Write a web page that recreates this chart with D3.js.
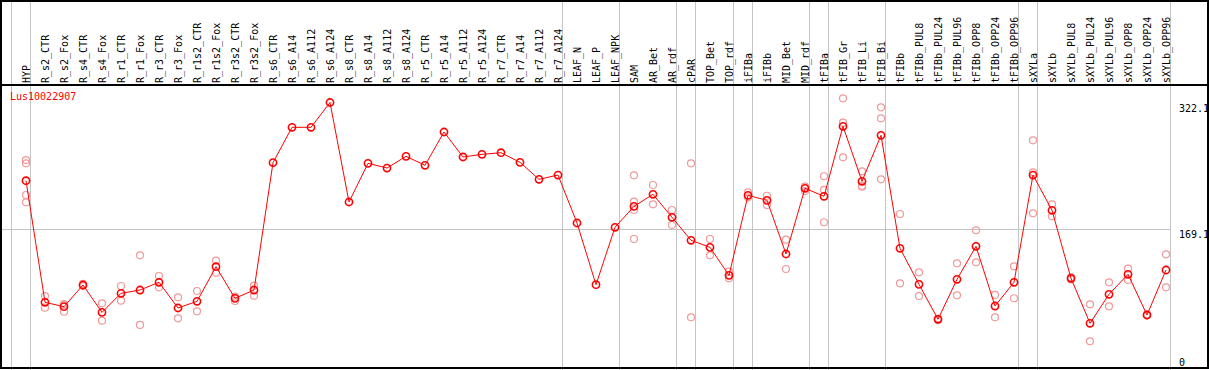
<!DOCTYPE html>
<html>
<head>
<meta charset="utf-8">
<script src="https://cdn.jsdelivr.net/npm/d3@7"></script>
<style>
  body { margin: 0; background: #fff; }
  text { font-family: "DejaVu Sans Mono", monospace; font-size: 10px; }
</style>
</head>
<body>
<script>
var samples = ["HYP","R_s2_CTR","R_s2_Fox","R_s4_CTR","R_s4_Fox","R_r1_CTR","R_r1_Fox","R_r3_CTR","R_r3_Fox",
  "R_r1s2_CTR","R_r1s2_Fox","R_r3s2_CTR","R_r3s2_Fox","R_s6_CTR","R_s6_A14","R_s6_A112","R_s6_A124",
  "R_s8_CTR","R_s8_A14","R_s8_A112","R_s8_A124","R_r5_CTR","R_r5_A14","R_r5_A112","R_r5_A124",
  "R_r7_CTR","R_r7_A14","R_r7_A112","R_r7_A124","LEAF_N","LEAF_P","LEAF_NPK","SAM","AR_Bet","AR_rdf",
  "cPAR","TOP_Bet","TOP_rdf","iFIBa","iFIBb","MID_Bet","MID_rdf","tFIBa","tFIB_Gr","tFIB_Li","tFIB_Bi",
  "tFIBb","tFIBb_PUL8","tFIBb_PUL24","tFIBb_PUL96","tFIBb_OPP8","tFIBb_OPP24","tFIBb_OPP96",
  "sXYLa","sXYLb","sXYLb_PUL8","sXYLb_PUL24","sXYLb_PUL96","sXYLb_OPP8","sXYLb_OPP24","sXYLb_OPP96"];

var means = [227.2, 79.7, 74.4, 100.7, 67.5, 90.6, 94.6, 104.0, 72.8, 80.9, 122.9, 84.5, 94.6,
  249.1, 292.0, 292.0, 322.1, 201.4, 248.3, 242.6, 256.8, 245.9, 286.3, 256.0, 259.2,
  261.2, 249.5, 228.9, 234.1, 175.9, 101.1, 170.7, 196.1, 210.7, 182.8, 154.9, 146.4, 112.4,
  209.5, 203.4, 138.3, 218.0, 208.3, 293.2, 226.5, 282.3, 145.2, 101.5, 59.1, 107.6, 147.6,
  75.2, 104.0, 234.1, 191.3, 108.8, 54.2, 89.4, 113.7, 64.3, 118.9];

var reps = [[252.3, 248.3, 209.9, 201.0], [87.3, 73.2], [77.6, 77.0, 68.3], [102.0, 99.4],
  [78.5, 57.4], [99.5, 81.7], [136.7, 52.2], [111.6, 97.9], [85.8, 60.3], [93.4, 68.8],
  [130.2, 115.6], [86.5, 81.3], [99.9, 87.7],
  [], [], [], [], [], [], [], [], [], [], [], [], [], [], [], [], [], [], [],
  [233.8, 201.8, 191.7, 156.5], [222.0, 198.6], [191.7, 173.5], [248.3, 61.5], [156.5, 136.7],
  [116.8, 108.8], [213.0, 207.0], [209.0, 197.7], [155.7, 120.1], [220.0, 214.7],
  [232.6, 216.0, 176.8], [327.2, 297.6, 255.6], [238.6, 221.0, 220.0], [316.3, 302.9, 228.9],
  [186.8, 102.7], [116.1, 87.3], [60.0, 58.2], [127.0, 88.2], [167.0, 128.2], [88.6, 61.5],
  [123.4, 84.6], [276.2, 237.4, 187.7], [198.6, 184.0], [110.2, 107.4], [77.3, 32.4],
  [104.0, 74.8], [120.5, 106.8], [65.0, 63.6], [137.9, 97.9]];

// last sample of each group (a grey separator follows it)
var groupEnds = ["HYP","R_r7_A124","LEAF_NPK","AR_rdf","cPAR","TOP_rdf","iFIBa","MID_rdf",
  "tFIBa","tFIB_Bi","tFIBb_OPP96","sXYLa","sXYLb_OPP96"];
var yTicks = [0, 169.1, 322.1];
var yGrid = [169.1];
var geneName = "Lus10022907";

var w = 1209, h = 370;
var headerH = 85;

var svg = d3.select("body").append("svg")
  .attr("width", w)
  .attr("height", h);

var x = d3.scalePoint().domain(samples).range([26, 1166]);
var y = d3.scaleLinear().domain([0, 322.1]).range([368, 102.5]);
var step = x.step();

// separators
var sepX = [x(samples[0]) - step + 4].concat(groupEnds.map(function(s) { return x(s) + 4; }));
svg.selectAll("line.sep")
  .data(sepX)
  .enter().append("line")
  .attr("class", "sep")
  .attr("x1", function(d) { return Math.round(d) + 0.5; })
  .attr("x2", function(d) { return Math.round(d) + 0.5; })
  .attr("y1", 0).attr("y2", h)
  .attr("stroke", "#c4c4c4");

var xEnd = x(samples[samples.length - 1]) + 4;
svg.selectAll("line.hgrid")
  .data(yGrid)
  .enter().append("line")
  .attr("class", "hgrid")
  .attr("x1", 0).attr("x2", Math.round(xEnd))
  .attr("y1", function(d) { return Math.round(y(d)) + 0.5; })
  .attr("y2", function(d) { return Math.round(y(d)) + 0.5; })
  .attr("stroke", "#c4c4c4");

// frame + header line
svg.append("rect")
  .attr("x", 1).attr("y", 1).attr("width", w - 2).attr("height", h - 3)
  .attr("fill", "none").attr("stroke", "#000").attr("stroke-width", 2);
svg.append("line")
  .attr("x1", 0).attr("x2", w).attr("y1", headerH).attr("y2", headerH)
  .attr("stroke", "#000").attr("stroke-width", 2);

// column labels
svg.selectAll("text.col")
  .data(samples)
  .enter().append("text")
  .attr("class", "col")
  .attr("transform", function(d) { return "translate(" + (x(d) + 4) + "," + (headerH - 2) + ") rotate(-90)"; })
  .attr("fill", "#000")
  .text(function(d) { return d; });

svg.append("text")
  .attr("x", 10).attr("y", 100)
  .attr("fill", "#ff0000")
  .text(geneName);

// replicates
var repPts = [];
samples.forEach(function(s, i) {
  reps[i].forEach(function(v) { repPts.push({ s: s, v: v }); });
});
svg.selectAll("circle.rep")
  .data(repPts)
  .enter().append("circle")
  .attr("class", "rep")
  .attr("cx", function(d) { return x(d.s); })
  .attr("cy", function(d) { return y(d.v); })
  .attr("r", 3.5)
  .attr("fill", "none")
  .attr("stroke", "#f09a9a")
  .attr("stroke-width", 1.2);

var line = d3.line()
  .x(function(d, i) { return x(samples[i]); })
  .y(function(d) { return y(d); });

svg.append("path")
  .datum(means)
  .attr("d", line)
  .attr("fill", "none")
  .attr("stroke", "#ff0000")
  .attr("stroke-width", 1);

svg.selectAll("circle.mean")
  .data(means)
  .enter().append("circle")
  .attr("class", "mean")
  .attr("cx", function(d, i) { return x(samples[i]); })
  .attr("cy", function(d) { return y(d); })
  .attr("r", 3.6)
  .attr("fill", "none")
  .attr("stroke", "#ff0000")
  .attr("stroke-width", 1.6);

// right value axis
var axis = d3.axisRight(y)
  .tickValues(yTicks)
  .tickSize(0)
  .tickPadding(0)
  .tickFormat(function(d) { return d === 0 ? "0" : d3.format(".1f")(d); });

var gAxis = svg.append("g")
  .attr("transform", "translate(1179,0)")
  .call(axis);
gAxis.select(".domain").remove();
gAxis.selectAll("text")
  .attr("font-family", "DejaVu Sans Mono, monospace")
  .attr("font-size", 10)
  .attr("fill", "#000")
  .attr("dy", function(d) { return d === 0 ? "-0.25em" : "0.85em"; });
</script>
</body>
</html>
